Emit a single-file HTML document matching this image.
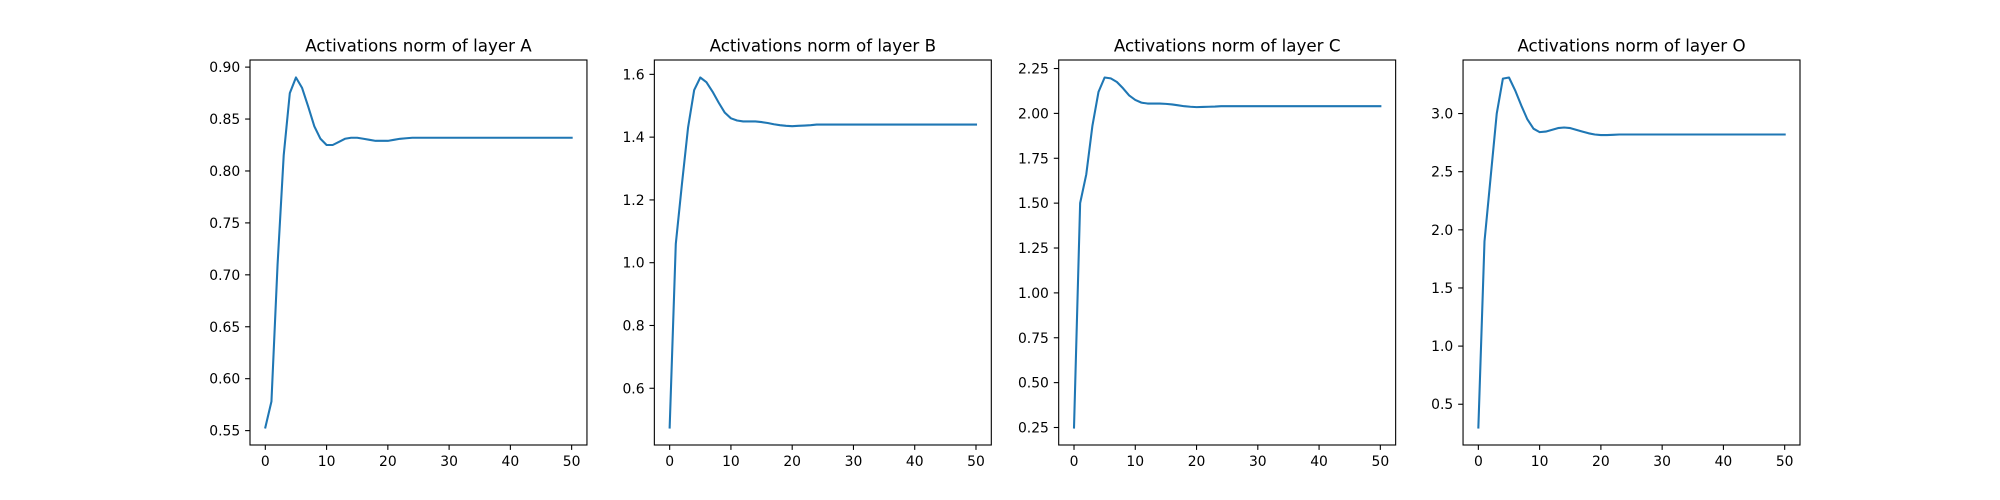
<!DOCTYPE html>
<html><head><meta charset="utf-8"><style>
html,body{margin:0;padding:0;background:#fff;}
svg{display:block;font-family:"DejaVu Sans","Liberation Sans",sans-serif;}
</style></head><body>
<svg id="fig" width="2000" height="500" viewBox="0 0 2000 500" xmlns="http://www.w3.org/2000/svg"></svg>
<script>
const steps = [0,1,2,3,4,5,6,7,8,9,10,11,12,13,14,15,16,17,18,19,20,21,22,23,24,25,26,27,28,29,30,31,32,33,34,35,36,37,38,39,40,41,42,43,44,45,46,47,48,49,50];
const seriesA = [0.553,0.578,0.71,0.815,0.875,0.89,0.88,0.862,0.843,0.831,0.825,0.825,0.828,0.831,0.832,0.832,0.831,0.830,0.829,0.829,0.829,0.830,0.831,0.8315,0.832,0.832,0.832,0.832,0.832,0.832,0.832,0.832,0.832,0.832,0.832,0.832,0.832,0.832,0.832,0.832,0.832,0.832,0.832,0.832,0.832,0.832,0.832,0.832,0.832,0.832,0.832];
const seriesB = [0.475,1.06,1.25,1.43,1.55,1.59,1.575,1.545,1.51,1.478,1.46,1.453,1.45,1.45,1.45,1.448,1.445,1.441,1.438,1.436,1.435,1.436,1.437,1.438,1.44,1.44,1.44,1.44,1.44,1.44,1.44,1.44,1.44,1.44,1.44,1.44,1.44,1.44,1.44,1.44,1.44,1.44,1.44,1.44,1.44,1.44,1.44,1.44,1.44,1.44,1.44];
const seriesC = [0.25,1.50,1.66,1.93,2.12,2.20,2.195,2.175,2.14,2.10,2.075,2.06,2.055,2.055,2.055,2.053,2.05,2.045,2.04,2.037,2.035,2.036,2.037,2.038,2.04,2.04,2.04,2.04,2.04,2.04,2.04,2.04,2.04,2.04,2.04,2.04,2.04,2.04,2.04,2.04,2.04,2.04,2.04,2.04,2.04,2.04,2.04,2.04,2.04,2.04,2.04];
const seriesD = [0.3,1.9,2.45,3.0,3.3,3.31,3.2,3.07,2.95,2.87,2.84,2.845,2.86,2.875,2.88,2.875,2.86,2.845,2.83,2.82,2.815,2.815,2.817,2.82,2.82,2.82,2.82,2.82,2.82,2.82,2.82,2.82,2.82,2.82,2.82,2.82,2.82,2.82,2.82,2.82,2.82,2.82,2.82,2.82,2.82,2.82,2.82,2.82,2.82,2.82,2.82];
const titles = ["Activations norm of layer A","Activations norm of layer B","Activations norm of layer C","Activations norm of layer O"];
const xTicks = [0,10,20,30,40,50];
const yTicksA = ["0.55","0.60","0.65","0.70","0.75","0.80","0.85","0.90"];
const yTicksB = ["0.6","0.8","1.0","1.2","1.4","1.6"];
const yTicksC = ["0.25","0.50","0.75","1.00","1.25","1.50","1.75","2.00","2.25"];
const yTicksD = ["0.5","1.0","1.5","2.0","2.5","3.0"];

const NS = "http://www.w3.org/2000/svg";
const svgRoot = document.getElementById('fig');
function mk(tag, attrs, parent){
  const e = document.createElementNS(NS, tag);
  for (const k in attrs) e.setAttribute(k, attrs[k]);
  (parent||svgRoot).appendChild(e);
  return e;
}
const panels = [
  {s:seriesA, t:yTicksA, key:'a'},
  {s:seriesB, t:yTicksB, key:'b'},
  {s:seriesC, t:yTicksC, key:'c'},
  {s:seriesD, t:yTicksD, key:'o'}
];
const axW = 1550/4.6, axGap = axW*0.2, axTop = 60, axBottom = 445;
panels.forEach((p, i) => {
  const left = 250 + i*(axW+axGap);
  const g = mk('g', {});
  
  
  const xmin = Math.min(...steps), xmax = Math.max(...steps);
  const xr = xmax - xmin, x0 = xmin - 0.05*xr, x1 = xmax + 0.05*xr;
  const ymin = Math.min(...p.s), ymax = Math.max(...p.s);
  const yr = ymax - ymin, y0 = ymin - 0.05*yr, y1 = ymax + 0.05*yr;
  const X = v => left + (v - x0)/(x1 - x0)*axW;
  const Y = v => axBottom - (v - y0)/(y1 - y0)*(axBottom - axTop);
  const d = steps.map((x, j) => (j ? 'L' : 'M') + X(x).toFixed(2) + ',' + Y(p.s[j]).toFixed(2)).join(' ');
  const line = mk('path', {d:d, fill:'none', stroke:'#1f77b4', 'stroke-width':2.08, 'stroke-linejoin':'round', 'stroke-linecap':'square'}, g);
  
  
  const fr = mk('rect', {x:left, y:axTop, width:axW, height:axBottom-axTop, fill:'none', stroke:'#000', 'stroke-width':1.1}, g);
  
  
  xTicks.forEach(v => {
    const x = X(v);
    mk('line', {x1:x, x2:x, y1:axBottom, y2:axBottom+4.9, stroke:'#000', 'stroke-width':1.1}, g);
    const t = mk('text', {x:x, y:axBottom+21, 'font-size':13.9, 'text-anchor':'middle', fill:'#000'}, g);
    t.textContent = v;
    
    
  });
  p.t.forEach(lbl => {
    const y = Y(parseFloat(lbl));
    mk('line', {x1:left-4.9, x2:left, y1:y, y2:y, stroke:'#000', 'stroke-width':1.1}, g);
    const t = mk('text', {x:left-9.8, y:y+5, 'font-size':13.9, 'text-anchor':'end', fill:'#000'}, g);
    t.textContent = lbl;
    
    
  });
  const tt = mk('text', {x:left+axW/2, y:axTop-8.5, 'font-size':16.7, 'text-anchor':'middle', fill:'#000'}, g);
  tt.textContent = titles[i];
  
  
});
</script>
</body></html>
